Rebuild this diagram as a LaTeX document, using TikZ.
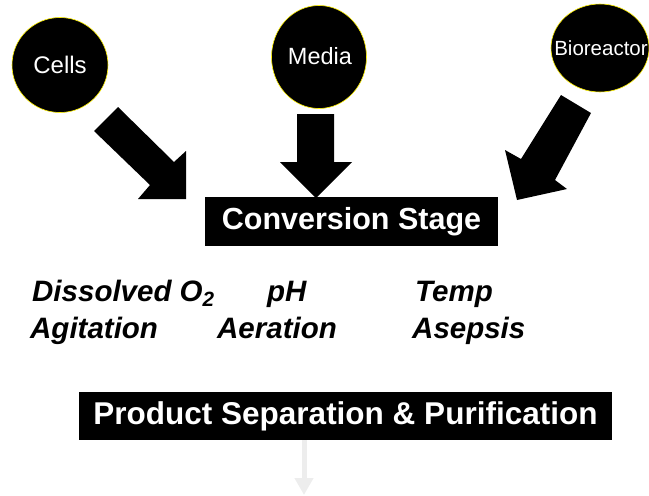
\documentclass[tikz,border=0pt]{standalone}
\usepackage{fontspec}
\setmainfont{Liberation Sans}
\usetikzlibrary{arrows.meta,shapes.geometric}
\tikzset{
  circ/.style={ellipse, fill=black, draw=yellow, line width=0.6pt, inner sep=0pt},
  circtext/.style={text=white, inner sep=0pt},
  blockbox/.style={rectangle, fill=black, inner sep=0pt, text=white},
  blockarrow/.style={fill=black},
  param/.style={anchor=base west, inner sep=0pt, font=\fontsize{29.5}{31}\selectfont\bfseries\itshape},
  faint/.style={draw=black!7, line width=5pt, -{Triangle[width=18pt,length=17pt]}}
}
\begin{document}
\begin{tikzpicture}[x=1pt,y=-1pt]
\useasboundingbox (0,0) rectangle (649,496);
% source circles
\node[circ, minimum width=96pt, minimum height=95pt] (cells) at (60,65) {};
\node[circ, minimum width=95pt, minimum height=103pt] (media) at (319,57) {};
\node[circ, minimum width=98pt, minimum height=88pt] (bior) at (600,48) {};
\node[circtext, font=\fontsize{24}{26}\selectfont] (cellst) at (60,65) {Cells};
\node[circtext, font=\fontsize{23.5}{26}\selectfont] (mediat) at (320,56) {Media};
\node[circtext, font=\fontsize{20.5}{22}\selectfont] (biort) at (601,48) {Bioreactor};
% block arrows
\fill[blockarrow] (94,131) -- (118,107) -- (174,162) -- (186,151) -- (186,199)
  -- (138,199) -- (150,185) -- cycle;
\fill[blockarrow] (297,114) -- (334,114) -- (334,162) -- (352,162) -- (316,198)
  -- (280,162) -- (297,162) -- cycle;
\fill[blockarrow] (561,95) -- (591,113) -- (555,180) -- (567,189) -- (517,200)
  -- (505,150) -- (521,159) -- cycle;
% conversion stage
\node[blockbox, minimum width=293pt, minimum height=49pt,
  font=\fontsize{30.5}{32}\selectfont\bfseries] (conv) at (351.5,221.5)
  {Conversion Stage};
% parameters
\node[param] (do) at (32,301) {Dissolved O\textsubscript{2}};
\node[param] (ph) at (267,301) {pH};
\node[param] (temp) at (415,301) {Temp};
\node[param] (agit) at (30,338) {Agitation};
\node[param] (aer) at (217,338) {Aeration};
\node[param] (asep) at (412,338) {Asepsis};
% separation
\node[blockbox, minimum width=533pt, minimum height=48pt,
  font=\fontsize{31.5}{33}\selectfont\bfseries] (sep) at (345.5,416)
  {Product Separation \& Purification};
\coordinate (fend) at (304,495);
\draw[faint] (sep.south -| fend) -- (fend);
\end{tikzpicture}
\end{document}
